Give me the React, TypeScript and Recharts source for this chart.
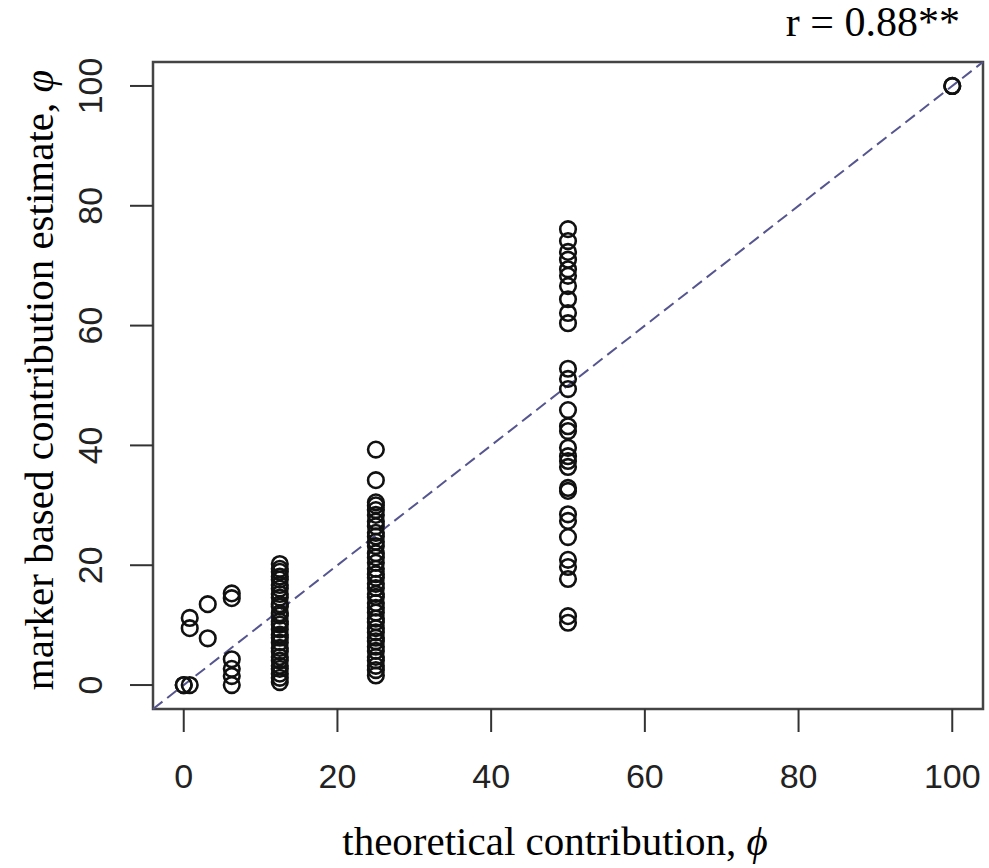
import React from "react";
import {
  Customized,
  ReferenceArea,
  ReferenceLine,
  Scatter,
  ScatterChart,
  XAxis,
  YAxis,
} from "recharts";

// theoretical contribution (x) and the marker based estimates read at each x
const theoretical = [0, 0.78, 3.125, 6.25, 12.5, 25, 50, 100];
const est0 = [0, 0];
const est078 = [0, 9.5, 11.2];
const est3 = [7.8, 13.5];
const est6 = [15.3, 14.5, 4.3, 2.7, 1.5, 0];
const est12 = [
  20.2, 19.4, 18.9, 18.1, 17.6, 16.7, 16.1, 15.2, 14.6, 13.5, 13.1, 12.0,
  11.6, 10.6, 10.1, 9.3, 8.4, 7.9, 7.1, 6.2, 5.6, 4.7, 4.1, 3.2, 2.7, 1.9,
  1.2, 0.5,
];
const est25 = [
  39.3, 34.2, 30.5, 30.0, 29.2, 28.4, 27.3, 26.5, 25.4, 24.8, 23.9, 23.2,
  22.0, 21.3, 20.4, 19.4, 18.5, 17.9, 16.9, 16.2, 15.2, 14.7, 13.7, 12.9,
  12.1, 11.1, 10.5, 9.5, 8.8, 7.9, 7.3, 6.4, 5.7, 4.7, 4.1, 3.2, 2.5, 1.6,
];
const est50 = [
  76.1, 74.1, 72.3, 71.0, 69.4, 68.3, 66.6, 64.4, 62.1, 60.4, 52.8, 51.1,
  49.4, 45.9, 43.2, 42.4, 39.6, 38.2, 37.4, 36.4, 32.9, 32.4, 28.5, 27.4,
  24.7, 20.9, 19.7, 17.7, 11.5, 10.4,
];
const est100 = [100, 100];
const estimates = [est0, est078, est3, est6, est12, est25, est50, est100];
const axisTicks = [0, 20, 40, 60, 80, 100];

const points = theoretical.flatMap((x, i) =>
  estimates[i].map((y) => ({ x, y }))
);

const tickFont = "'Liberation Sans', Arial, sans-serif";
const titleFont = "'Liberation Serif', 'Times New Roman', serif";

const Ring = (props: any) => (
  <circle
    cx={props.cx}
    cy={props.cy}
    r={7.8}
    fill="none"
    stroke="#111"
    strokeWidth={2.6}
  />
);

const XTick = (props: any) => (
  <text
    x={props.x}
    y={776}
    textAnchor="middle"
    dominantBaseline="central"
    fontFamily={tickFont}
    fontSize={34}
    fill="#222"
  >
    {props.payload.value}
  </text>
);

const YTick = (props: any) => {
  const cx = 90;
  return (
    <text
      x={cx}
      y={props.y}
      textAnchor="middle"
      dominantBaseline="central"
      transform={`rotate(-90, ${cx}, ${props.y})`}
      fontFamily={tickFont}
      fontSize={34}
      fill="#222"
    >
      {props.payload.value}
    </text>
  );
};

const Titles = () => (
  <g fontFamily={titleFont} fill="#000">
    <text x={960} y={36} textAnchor="end" fontSize={42}>
      r = 0.88**
    </text>
    <text x={555} y={855} textAnchor="middle" fontSize={41}>
      theoretical contribution,{" "}
      <tspan fontStyle="italic">ϕ</tspan>
    </text>
    <text
      x={53}
      y={380}
      textAnchor="middle"
      fontSize={41}
      transform="rotate(-90, 53, 380)"
    >
      marker based contribution estimate,{" "}
      <tspan fontStyle="italic">φ</tspan>
    </text>
  </g>
);

export default function App() {
  return (
    <div style={{ position: "absolute", left: 0, top: 0, background: "#fff" }}>
      <ScatterChart
        width={989}
        height={868}
        margin={{ top: 62, right: 6, bottom: 0, left: 0 }}
      >
        <XAxis
          type="number"
          dataKey="x"
          domain={[-4, 104]}
          ticks={axisTicks}
          allowDataOverflow
          height={159}
          axisLine={false}
          tickSize={23}
          tickLine={{ stroke: "#333", strokeWidth: 2 }}
          tick={<XTick />}
        />
        <YAxis
          type="number"
          dataKey="y"
          domain={[-4, 104]}
          ticks={axisTicks}
          allowDataOverflow
          width={153}
          axisLine={false}
          tickSize={23}
          tickLine={{ stroke: "#333", strokeWidth: 2 }}
          tick={<YTick />}
        />
        <ReferenceArea
          x1={-4}
          x2={104}
          y1={-4}
          y2={104}
          fill="none"
          stroke="#444"
          strokeWidth={2.5}
          ifOverflow="visible"
        />
        <ReferenceLine
          segment={[
            { x: -4, y: -4 },
            { x: 104, y: 104 },
          ]}
          stroke="#55558f"
          strokeWidth={2}
          strokeDasharray="12 6"
          ifOverflow="visible"
        />
        <Scatter
          data={points}
          shape={<Ring />}
          isAnimationActive={false}
        />
        <Customized component={<Titles />} />
      </ScatterChart>
    </div>
  );
}
